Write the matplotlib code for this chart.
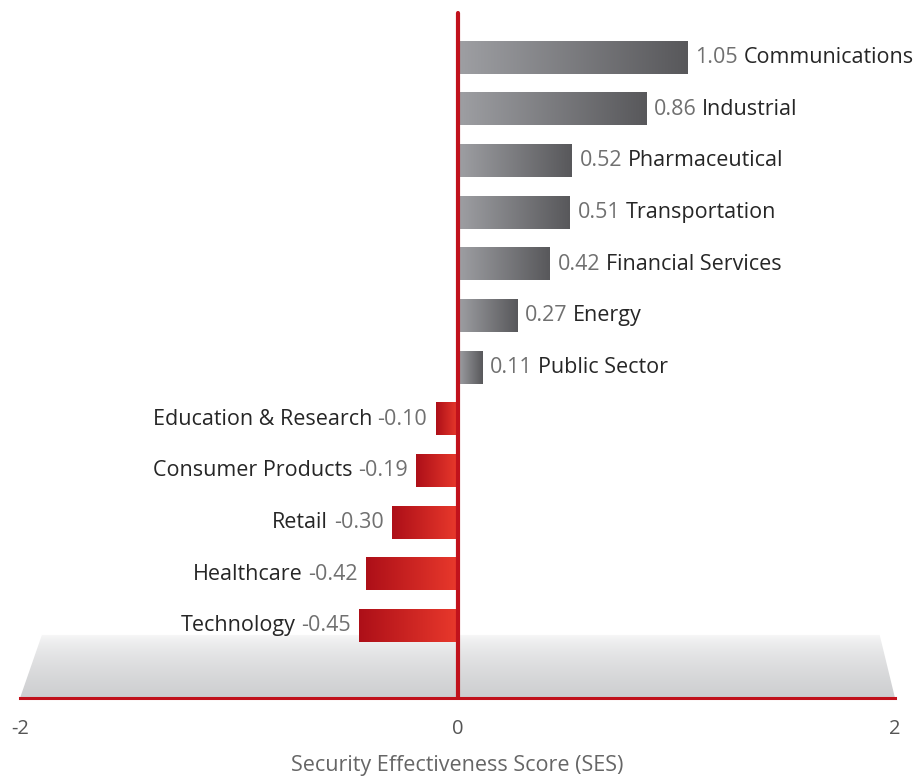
import matplotlib.pyplot as plt
import numpy as np
from matplotlib.patches import Polygon
from matplotlib.colors import LinearSegmentedColormap

categories = ['Communications', 'Industrial', 'Pharmaceutical', 'Transportation',
              'Financial Services', 'Energy', 'Public Sector', 'Education & Research',
              'Consumer Products', 'Retail', 'Healthcare', 'Technology']
scores = [1.05, 0.86, 0.52, 0.51, 0.42, 0.27, 0.11, -0.10, -0.19, -0.30, -0.42, -0.45]
ticks = [-2, 0, 2]

plt.rcParams['font.family'] = ['Open Sans', 'DejaVu Sans']

RED = '#c1121c'
gray_cmap = LinearSegmentedColormap.from_list('g', ['#9e9fa3', '#58585b'])
red_cmap = LinearSegmentedColormap.from_list('r', ['#ad0f18', '#e9392c'])
floor_cmap = LinearSegmentedColormap.from_list('f', ['#fbfbfb', '#cdced0'])

fig = plt.figure(figsize=(9.14, 7.81), dpi=100)
ax = fig.add_axes([20 / 914, 1 - 698 / 781, 875 / 914, 686 / 781])

y_bot, y_top = 12.40, -0.88
floor_top = 11.18

# floor (trapezoid with vertical gradient)
poly = Polygon([(-2, y_bot), (-1.9, floor_top), (1.93, floor_top), (2, y_bot)],
               closed=True, facecolor='none', edgecolor='none')
ax.add_patch(poly)
im = ax.imshow(np.linspace(0, 1, 256).reshape(-1, 1) ** 0.6, cmap=floor_cmap, aspect='auto',
               extent=(-2, 2, y_bot, floor_top), zorder=0)
im.set_clip_path(poly)

# bars with horizontal gradient
h = 0.63
fs = 15.5
grad = np.linspace(0, 1, 256).reshape(1, -1)
for i, (cat, v) in enumerate(zip(categories, scores)):
    x0, x1 = min(0, v), max(0, v)
    cmap = gray_cmap if v > 0 else red_cmap
    ax.imshow(grad, cmap=cmap, aspect='auto', extent=(x0, x1, i + h / 2, i - h / 2), zorder=2)
    if v > 0:
        t = ax.annotate(f'{v:.2f}', xy=(v, i), xytext=(6, 0), textcoords='offset points',
                        ha='left', va='center', color='#707070', fontsize=fs)
        ax.annotate(cat, xy=(1, 0), xycoords=t, xytext=(4, 0), textcoords='offset points',
                    ha='left', va='bottom', color='#262626', fontsize=fs)
    else:
        t = ax.annotate(f'{v:.2f}', xy=(v, i), xytext=(-6, 0), textcoords='offset points',
                        ha='right', va='center', color='#707070', fontsize=fs)
        ax.annotate(cat, xy=(0, 0), xycoords=t, xytext=(-4, 0), textcoords='offset points',
                    ha='right', va='bottom', color='#262626', fontsize=fs)

# axis lines
ax.plot([0, 0], [y_bot, -0.86], color=RED, lw=3, solid_capstyle='round', zorder=5, clip_on=False)
ax.plot([-2, 2], [y_bot, y_bot], color=RED, lw=2.2, zorder=5, clip_on=False)

ax.set_xlim(-2, 2)
ax.set_ylim(y_bot, y_top)
ax.set_xticks(ticks)
ax.set_xticklabels([str(t) for t in ticks])
ax.set_yticks([])
ax.tick_params(axis='x', length=0, pad=15, labelsize=14.5, labelcolor='#555555')
ax.set_xlabel('Security Effectiveness Score (SES)', fontsize=15.5, color='#666666', labelpad=12)
for s in ax.spines.values():
    s.set_visible(False)

fig.savefig('out.png', dpi=100)
